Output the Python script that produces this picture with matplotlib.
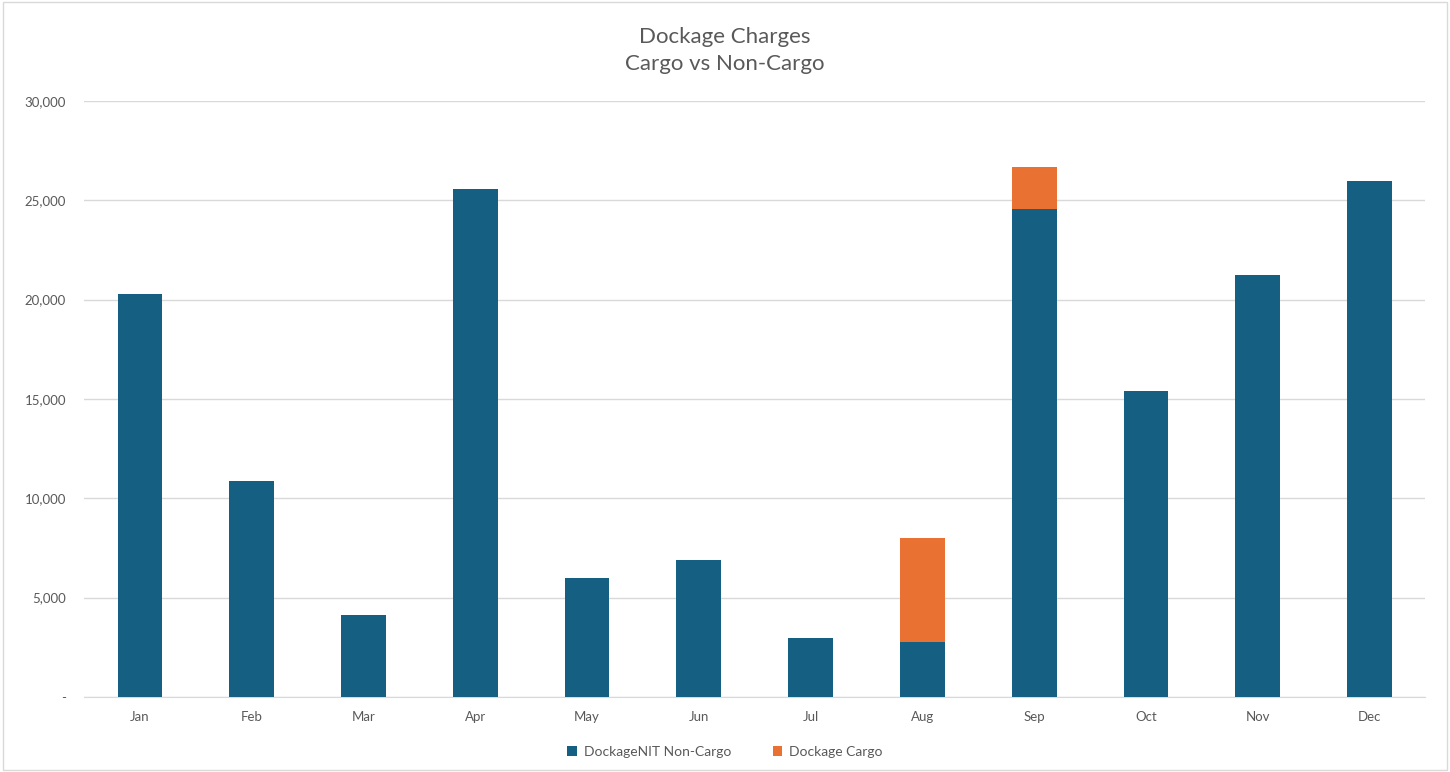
import matplotlib.pyplot as plt
import numpy as np
from matplotlib.ticker import FuncFormatter

months = ['Jan', 'Feb', 'Mar', 'Apr', 'May', 'Jun', 'Jul', 'Aug', 'Sep', 'Oct', 'Nov', 'Dec']
non_cargo = [20300, 10870, 4120, 25580, 5990, 6900, 2970, 2770, 24560, 15400, 21240, 25970]
cargo = [0, 0, 0, 0, 0, 0, 0, 5230, 2130, 0, 0, 0]

plt.rcParams['font.family'] = ['Lato', 'DejaVu Sans']
grey = '#595959'

fig = plt.figure(figsize=(14.5, 7.72), dpi=100)
ax = fig.add_axes([0.058, 0.0972, 0.925, 0.772])

x = np.arange(len(months))
ax.bar(x, non_cargo, width=0.4, color='#156082', linewidth=0,
       label='DockageNIT Non-Cargo', zorder=3)
ax.bar(x, cargo, width=0.4, bottom=non_cargo, color='#E97132', linewidth=0,
       label='Dockage Cargo', zorder=3)

ax.set_xlim(-0.5, len(months) - 0.5)
ax.set_ylim(0, 30000)
ax.set_yticks(np.arange(0, 30001, 5000))
ax.yaxis.set_major_formatter(FuncFormatter(lambda v, p: '-' if v == 0 else f'{int(v):,}'))
ax.set_xticks(x)
ax.set_xticklabels(months)
ax.grid(axis='y', color='#d9d9d9', linewidth=1, zorder=0)
for s in ['top', 'right', 'left']:
    ax.spines[s].set_visible(False)
ax.spines['bottom'].set_color('#d9d9d9')
ax.tick_params(axis='both', length=0, labelsize=9.5, colors=grey)
ax.tick_params(axis='y', pad=13)
ax.tick_params(axis='x', pad=10)

fig.text(0.5, 0.935, 'Dockage Charges\nCargo vs Non-Cargo', ha='center', va='center',
         fontsize=16, color=grey, linespacing=1.45)

fig.legend(loc='center', bbox_to_anchor=(0.5, 0.026), ncol=2, frameon=False,
           fontsize=10, labelcolor=grey, handlelength=0.7, handleheight=0.7,
           handletextpad=0.5, columnspacing=3)

fig.patches.append(plt.Rectangle((0.002, 0.002), 0.996, 0.996, transform=fig.transFigure,
                                 fill=False, edgecolor='#d9d9d9', linewidth=1))

fig.savefig('out.png', dpi=100)
